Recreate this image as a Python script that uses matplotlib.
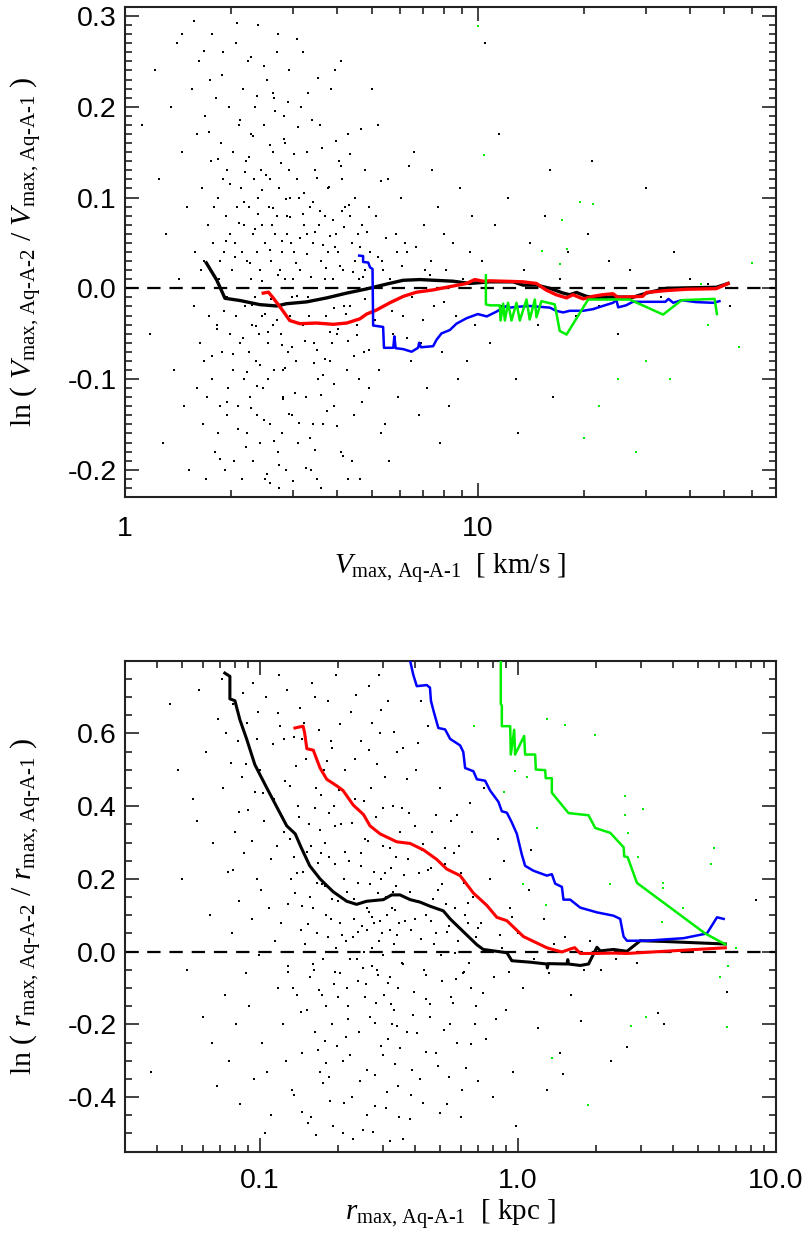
import matplotlib
matplotlib.use("Agg")
import matplotlib.pyplot as plt
from matplotlib.ticker import FixedLocator, FixedFormatter, NullFormatter

plt.rcParams['axes.unicode_minus'] = False
plt.rcParams['mathtext.fontset'] = 'custom'
plt.rcParams['mathtext.rm'] = 'Liberation Serif'
plt.rcParams['mathtext.it'] = 'Liberation Serif:italic'

# ---------------- top panel: Vmax ----------------
vmax_black_x = [1.70, 1.82, 1.92, 2.12, 2.41, 2.69, 2.87, 3.27, 3.73, 4.25, 4.84, 5.51, 6.14, 6.85, 8.51,
                9.49, 10.81, 12.59, 13.44, 14.66, 16.0, 17.45, 18.22, 19.04, 20.32, 21.7, 24.16, 27.5,
                30.06, 34.24, 47.4, 51.2]
vmax_black_y = [0.028, 0.009, -0.011, -0.0135, -0.018, -0.0195, -0.017, -0.015, -0.0106, -0.0053, -0.0007,
                0.0046, 0.0088, 0.0096, 0.0078, 0.0053, 0.0071, 0.0071, 0.0035, 0.0035, 0.0, -0.0053, -0.0071,
                -0.0046, -0.0089, -0.0106, -0.0095, -0.0099, -0.0053, 0.0, 0.0011, 0.0053]

vmax_red_x = [2.465, 2.55, 2.63, 2.78, 2.93, 3.13, 3.49, 3.89, 4.25, 4.63, 4.84, 5.16, 5.63, 6.15, 6.70, 7.47,
              8.33, 9.29, 9.80, 10.35, 10.81, 12.59, 13.44, 14.66, 15.6, 16.67, 17.84, 18.6, 19.88, 21.2, 22.6,
              24.16, 24.9, 29.3, 30.06, 34.24, 38.9, 47.4, 51.2]
vmax_red_y = [-0.0053, -0.0043, -0.0106, -0.023, -0.0355, -0.039, -0.0383, -0.0397, -0.0383, -0.0337, -0.0284,
              -0.024, -0.016, -0.0089, -0.0043, -0.0018, 0.0018, 0.0053, 0.0096, 0.0078, 0.0082, 0.0075, 0.0071,
              0.0053, -0.0018, -0.0071, -0.0106, -0.0071, -0.0117, -0.0089, -0.0071, -0.006, -0.0099, -0.0089,
              -0.0046, -0.0025, -0.0011, -0.0004, 0.0053]

vmax_blue_x = [4.61, 4.73, 4.73, 4.89, 4.95, 5.03, 5.05, 5.39, 5.42, 5.76, 5.80, 5.85, 6.14, 6.49, 6.77, 6.82,
               6.90, 7.47, 7.64, 7.89, 8.33, 8.70, 9.29, 10.0, 10.6, 11.27, 12.06, 12.3, 13.15, 14.03, 16.0,
               16.67, 17.45, 18.22, 19.88, 21.2, 22.6, 24.16, 24.7, 25.0, 26.3, 27.5, 34.0, 34.7, 35.8, 37.8,
               41.5, 46.5, 48.4]
vmax_blue_y = [0.036, 0.0355, 0.029, 0.0284, 0.023, 0.0213, -0.041, -0.0426, -0.0656, -0.0656, -0.053, -0.066,
               -0.067, -0.0699, -0.0656, -0.060, -0.065, -0.0638, -0.0567, -0.0497, -0.046, -0.039, -0.033,
               -0.0284, -0.031, -0.0259, -0.0195, -0.0213, -0.0202, -0.0195, -0.0213, -0.0248, -0.0266, -0.0248,
               -0.0248, -0.023, -0.0195, -0.016, -0.0131, -0.021, -0.0188, -0.0149, -0.0149, -0.0117, -0.016,
               -0.0131, -0.0152, -0.016, -0.0142]

vmax_green_x = [10.54, 10.54, 10.81, 11.54, 11.60, 11.80, 11.93, 12.18, 12.46, 12.87, 13.15, 13.74, 14.03,
                14.51, 14.66, 15.14, 16.52, 17.07, 17.84, 20.54, 25.25, 26.96, 33.5, 37.8, 46.9, 47.6]
vmax_green_y = [0.0142, -0.0177, -0.0188, -0.0188, -0.0355, -0.017, -0.0355, -0.016, -0.0355, -0.016, -0.0355,
                -0.0124, -0.0344, -0.0124, -0.0319, -0.0142, -0.0177, -0.047, -0.051, -0.0124, -0.0124, -0.0124,
                -0.029, -0.0131, -0.0117, -0.0284]

vmax_cloud = [
    (1.12, 0.18), (1.18, -0.05), (1.22, 0.24), (1.25, 0.12), (1.28, -0.17), (1.31, 0.06), (1.35, 0.2),
    (1.38, -0.09), (1.4, 0.27), (1.42, 0.01), (1.45, 0.15), (1.47, -0.13), (1.5, 0.09), (1.52, -0.2),
    (1.55, 0.22), (1.57, -0.02), (1.58, 0.04), (1.6, -0.11), (1.6, 0.17), (1.45, 0.28),
    (1.62, 0.25), (1.63, -0.06), (1.65, 0.11), (1.66, -0.15), (1.68, 0.03), (1.69, 0.19), (1.7, -0.21),
    (1.72, 0.07), (1.73, -0.03), (1.75, 0.14), (1.76, 0.28), (1.77, -0.1), (1.78, 0.05), (1.8, -0.18),
    (1.81, 0.21), (1.82, -0.04), (1.84, 0.1), (1.85, 0.01), (1.86, -0.13), (1.87, 0.16), (1.88, -0.07),
    (1.9, 0.26), (1.91, 0.04), (1.92, -0.2), (1.93, 0.08), (1.94, -0.01), (1.95, 0.13), (1.96, -0.11),
    (1.97, 0.2), (1.98, -0.05), (1.99, 0.06), (1.64, 0.02), (1.71, -0.12), (1.79, 0.09), (1.83, -0.16),
    (1.89, 0.12), (1.95, -0.14), (1.74, 0.23), (1.67, -0.08), (1.86, 0.03),
    (2.01, 0.02), (2.02, -0.09), (2.03, 0.15), (2.04, -0.19), (2.05, 0.05), (2.06, 0.27), (2.07, -0.03),
    (2.08, 0.09), (2.09, -0.13), (2.1, 0.18), (2.11, 0.0), (2.12, -0.06), (2.13, 0.11), (2.14, -0.21),
    (2.15, 0.04), (2.16, 0.22), (2.17, -0.1), (2.18, 0.07), (2.19, -0.02), (2.2, 0.14), (2.21, -0.16),
    (2.22, 0.03), (2.23, 0.25), (2.24, -0.07), (2.25, 0.09), (2.26, -0.12), (2.27, 0.01), (2.28, 0.17),
    (2.29, -0.04), (2.3, 0.06), (2.31, -0.19), (2.32, 0.12), (2.33, -0.01), (2.34, 0.2), (2.35, -0.08),
    (2.36, 0.04), (2.37, -0.14), (2.38, 0.1), (2.39, 0.29), (2.4, -0.05), (2.41, 0.02), (2.42, -0.17),
    (2.43, 0.13), (2.44, -0.03), (2.45, 0.07), (2.46, -0.11), (2.47, 0.18), (2.48, 0.0), (2.49, -0.21),
    (2.5, 0.05), (2.52, 0.23), (2.54, -0.06), (2.56, 0.09), (2.58, -0.15), (2.6, 0.03), (2.62, 0.15),
    (2.64, -0.09), (2.66, 0.06), (2.68, -0.02), (2.7, 0.26), (2.72, -0.18), (2.74, 0.11), (2.76, -0.05),
    (2.78, 0.04), (2.8, -0.12), (2.82, 0.19), (2.84, 0.01), (2.86, -0.2), (2.88, 0.08), (2.9, -0.07),
    (2.92, 0.13), (2.94, -0.03), (2.96, 0.05), (2.98, -0.14), (2.53, 0.0), (2.57, 0.12), (2.63, -0.04),
    (2.69, 0.08), (2.75, 0.02), (2.81, -0.09), (2.87, 0.06), (2.93, 0.1), (2.55, -0.1), (2.65, 0.21),
    (2.73, -0.22), (2.85, 0.16), (2.97, -0.01), (2.61, 0.07), (2.79, -0.16), (2.91, 0.24),
    (3.02, 0.04), (3.05, -0.08), (3.08, 0.12), (3.1, -0.17), (3.13, 0.02), (3.16, 0.2), (3.19, -0.04),
    (3.22, 0.07), (3.25, -0.12), (3.28, 0.15), (3.31, -0.01), (3.34, 0.09), (3.37, -0.2), (3.4, 0.05),
    (3.43, -0.06), (3.46, 0.13), (3.5, 0.0), (3.53, -0.1), (3.57, 0.18), (3.6, 0.03), (3.64, -0.15),
    (3.68, 0.08), (3.72, -0.03), (3.76, 0.11), (3.8, -0.08), (3.84, 0.22), (3.88, 0.01), (3.92, -0.13),
    (3.96, 0.06), (4.0, -0.05), (4.05, 0.14), (4.1, -0.18), (4.15, 0.02), (4.2, 0.09), (4.25, -0.09),
    (4.3, 0.17), (4.35, -0.02), (4.4, 0.05), (4.45, -0.14), (4.5, 0.1), (4.55, -0.04), (4.6, 0.01),
    (4.65, -0.21), (4.7, 0.07), (4.75, -0.07), (4.8, 0.13), (4.85, 0.0), (4.9, -0.11), (4.95, 0.04),
    (3.12, 0.1), (3.27, 0.06), (3.42, -0.15), (3.55, 0.07), (3.7, 0.01), (3.86, -0.06), (4.02, 0.04),
    (4.18, -0.02), (4.33, 0.08), (4.48, 0.03), (4.62, -0.1), (4.78, 0.02), (4.92, 0.09), (3.2, 0.26),
    (3.6, -0.22), (3.95, 0.24), (4.4, -0.19), (3.33, -0.03), (3.75, 0.04), (4.12, 0.12), (4.58, 0.06),
    (5.05, -0.02), (5.15, 0.08), (5.25, -0.09), (5.35, 0.03), (5.45, -0.15), (5.55, 0.12), (5.65, 0.01),
    (5.75, -0.05), (5.85, 0.06), (5.95, -0.12), (6.05, 0.1), (6.15, -0.03), (6.3, 0.04), (6.45, -0.08),
    (6.6, 0.15), (6.75, 0.0), (6.9, -0.06), (7.05, 0.07), (7.2, -0.11), (7.35, 0.03), (7.5, -0.02),
    (7.7, 0.09), (7.9, -0.07), (8.1, 0.02), (8.3, -0.13), (8.5, 0.05), (8.7, -0.03), (8.9, 0.11),
    (9.1, 0.01), (9.3, -0.08), (9.5, 0.04), (9.8, -0.04), (5.2, 0.18), (5.6, -0.19), (6.2, 0.05),
    (6.8, -0.14), (7.4, 0.13), (8.0, 0.06), (8.8, -0.1), (9.6, 0.08), (5.4, 0.02), (5.9, 0.04),
    (6.5, -0.01), (7.1, 0.02), (7.8, -0.17), (5.0, 0.22),
    (10.3, 0.03), (10.8, -0.06), (11.2, 0.07), (11.7, -0.02), (12.2, 0.1), (12.8, -0.1), (13.5, 0.02),
    (14.1, 0.05), (14.8, -0.04), (15.5, 0.08), (16.3, -0.12), (17.1, 0.01), (18.0, 0.04), (19.0, -0.03),
    (20.5, 0.06), (22.0, -0.02), (23.5, 0.03), (25.0, -0.05), (27.0, 0.02), (30.0, 0.11), (33.0, -0.01),
    (36.0, 0.04), (40.0, 0.01), (45.0, 0.005), (52.0, -0.02), (11.5, 0.17), (10.5, 0.27), (13.0, -0.16),
    (16.0, 0.13), (21.0, 0.14),
    # denser core
    (2.05, 0.035), (2.33, 0.065), (2.71, 0.015), (3.14, 0.055), (3.58, 0.085), (4.07, 0.025), (4.63, 0.045),
    (2.18, 0.095), (2.57, 0.042), (2.94, 0.078), (3.36, 0.012), (3.82, 0.058), (4.31, 0.092), (1.93, 0.052),
    (2.44, 0.008), (2.86, 0.098), (3.27, 0.038), (3.71, 0.022), (4.18, 0.068), (4.85, 0.062), (2.11, 0.072),
    (2.62, 0.088), (3.05, 0.028), (3.46, 0.062), (3.93, 0.045), (4.44, 0.018), (5.2, 0.035), (2.26, 0.028),
    (2.79, 0.052), (3.19, 0.082), (3.64, 0.048), (4.12, 0.085), (4.72, 0.012), (2.39, 0.082), (2.99, 0.01),
    (3.41, 0.095), (3.88, 0.075), (5.5, 0.055), (6.1, 0.025), (6.7, 0.045), (7.3, 0.015),
    (1.98, 0.115), (2.24, 0.145), (2.51, 0.125), (2.83, 0.165), (3.21, 0.105), (3.62, 0.155), (4.09, 0.135),
    (4.66, 0.175), (2.12, 0.185), (2.45, 0.108), (2.76, 0.138), (3.09, 0.178), (3.49, 0.122), (3.97, 0.162),
    (2.31, 0.168), (2.67, 0.195), (3.02, 0.148), (3.38, 0.185), (1.84, 0.142), (2.58, 0.158), (3.78, 0.112),
    (4.35, 0.148), (5.3, 0.118), (6.4, 0.135), (1.73, 0.172), (2.19, 0.128),
    (1.88, 0.235), (2.27, 0.255), (2.63, 0.215), (3.08, 0.275), (3.52, 0.232), (2.08, 0.292), (2.48, 0.245),
    (2.9, 0.205), (1.68, 0.262), (3.3, 0.215), (4.1, 0.25), (2.36, 0.212), (1.57, 0.295), (2.72, 0.28),
    (1.91, -0.025), (2.16, -0.055), (2.42, -0.085), (2.69, -0.035), (2.97, -0.065), (3.29, -0.015),
    (3.63, -0.095), (4.01, -0.045), (4.47, -0.075), (5.1, -0.035), (2.03, -0.072), (2.29, -0.018),
    (2.55, -0.048), (2.84, -0.088), (3.16, -0.038), (3.51, -0.068), (3.9, -0.022), (4.28, -0.058),
    (4.79, -0.012), (2.21, -0.092), (2.49, -0.028), (2.78, -0.062), (3.07, -0.008), (3.44, -0.082),
    (3.81, -0.048), (4.22, -0.028), (4.9, -0.068), (1.82, -0.045), (2.35, -0.042), (2.6, -0.012),
    (3.23, -0.058), (3.7, -0.078), (4.55, -0.052), (5.7, -0.025), (6.3, -0.055), (7.0, -0.035), (8.0, -0.015),
    (1.76, -0.075),
    (1.95, -0.125), (2.2, -0.175), (2.47, -0.145), (2.74, -0.195), (3.03, -0.115), (3.35, -0.165),
    (3.74, -0.135), (4.15, -0.185), (4.7, -0.125), (2.09, -0.155), (2.37, -0.108), (2.65, -0.168),
    (2.92, -0.138), (3.25, -0.198), (3.59, -0.118), (4.0, -0.152), (2.52, -0.205), (2.81, -0.122),
    (3.12, -0.148), (3.45, -0.178), (1.86, -0.188), (2.27, -0.132), (3.9, -0.105), (5.3, -0.16),
    (2.57, -0.215), (3.0, -0.212), (3.5, -0.21), (4.3, -0.21),
]
vmax_green_dots = [(9.98, 0.289), (10.4, 0.147), (19.5, 0.095), (21.2, 0.093), (17.3, 0.075), (17.9, 0.043),
                   (15.2, 0.041), (17.1, 0.027), (59.8, 0.028), (42.8, 0.005), (30.0, -0.08), (35.0, -0.1),
                   (22.0, -0.13), (25.0, -0.1), (20.0, -0.165), (45.0, -0.04), (55.0, -0.065), (28.0, -0.18)]

# ---------------- bottom panel: rmax ----------------
rmax_black_x = [0.0731, 0.0765, 0.0765, 0.080, 0.0836, 0.0888, 0.0956, 0.106, 0.116, 0.127, 0.137, 0.145,
                0.156, 0.171, 0.192, 0.217, 0.237, 0.259, 0.301, 0.324, 0.349, 0.382, 0.418, 0.456, 0.514,
                0.546, 0.614, 0.693, 0.734, 0.906, 0.947, 1.115, 1.294, 1.30, 1.31, 1.548, 1.56, 1.57, 1.743,
                1.877, 2.023, 2.084, 2.347, 2.645, 2.98, 3.667, 6.365]
rmax_black_y = [0.766, 0.757, 0.695, 0.690, 0.638, 0.585, 0.514, 0.452, 0.399, 0.346, 0.324, 0.284, 0.236, 0.2,
                0.165, 0.1385, 0.13, 0.1385, 0.143, 0.156, 0.156, 0.143, 0.136, 0.125, 0.112, 0.09, 0.055, 0.019,
                0.006, -0.003, -0.025, -0.029, -0.034, -0.045, -0.033, -0.034, -0.022, -0.034, -0.038, -0.034,
                0.012, 0.002, 0.006, 0.001, 0.03, 0.028, 0.021]

rmax_red_x = [0.1367, 0.147, 0.149, 0.152, 0.161, 0.171, 0.1815, 0.1984, 0.210, 0.23, 0.252, 0.267, 0.292,
              0.339, 0.382, 0.418, 0.43, 0.4845, 0.53, 0.597, 0.672, 0.758, 0.828, 0.906, 1.05, 1.148, 1.294,
              1.48, 1.59, 1.66, 1.743, 2.023, 2.347, 2.645, 6.365]
rmax_red_y = [0.615, 0.62, 0.602, 0.558, 0.554, 0.505, 0.474, 0.456, 0.443, 0.403, 0.377, 0.346, 0.324, 0.302,
              0.2975, 0.284, 0.28, 0.2535, 0.227, 0.209, 0.161, 0.127, 0.0944, 0.085, 0.0415, 0.0283, 0.0106,
              -0.001, 0.007, 0.011, -0.005, -0.005, -0.004, -0.005, 0.0106]

rmax_blue_x = [0.382, 0.393, 0.4055, 0.443, 0.456, 0.46, 0.47, 0.4914, 0.522, 0.546, 0.597, 0.614, 0.624, 0.672,
               0.693, 0.746, 0.78, 0.84, 0.866, 0.906, 0.947, 0.99, 1.035, 1.066, 1.148, 1.294, 1.353, 1.394,
               1.48, 1.501, 1.594, 1.743, 2.023, 2.347, 2.49, 2.567, 2.645, 3.16, 3.56, 4.385, 5.4, 5.908, 6.27]
rmax_blue_y = [0.80, 0.761, 0.730, 0.733, 0.726, 0.69, 0.664, 0.615, 0.611, 0.585, 0.567, 0.549, 0.505, 0.496,
               0.474, 0.47, 0.443, 0.412, 0.386, 0.382, 0.355, 0.324, 0.267, 0.236, 0.2225, 0.209, 0.213, 0.187,
               0.178, 0.143, 0.143, 0.121, 0.108, 0.0988, 0.09, 0.0415, 0.03, 0.03, 0.0327, 0.037, 0.05, 0.0944,
               0.09]

rmax_green_x = [0.858, 0.858, 0.866, 0.866, 0.892, 0.933, 0.938, 0.967, 0.975, 1.057, 1.066, 1.166, 1.173, 1.275,
                1.281, 1.353, 1.353, 1.570, 1.877, 1.993, 2.279, 2.567, 2.582, 2.66, 2.892, 5.313, 6.365]
rmax_green_y = [0.80, 0.6816, 0.676, 0.62, 0.62, 0.62, 0.542, 0.61, 0.542, 0.593, 0.542, 0.542, 0.5007, 0.499,
                0.477, 0.477, 0.437, 0.381, 0.375, 0.34, 0.3266, 0.287, 0.262, 0.26, 0.189, 0.05, 0.02]

rmax_cloud = [
    (0.038, -0.33), (0.045, 0.68), (0.05, 0.2), (0.052, -0.05), (0.055, 0.42), (0.058, 0.72), (0.06, -0.18),
    (0.062, 0.55), (0.064, 0.1), (0.066, 0.3), (0.068, -0.37), (0.069, 0.64), (0.065, -0.25), (0.057, 0.36),
    (0.048, 0.5),
    (0.071, 0.75), (0.072, 0.45), (0.073, -0.12), (0.074, 0.6), (0.075, 0.22), (0.076, -0.3), (0.077, 0.52),
    (0.078, 0.05), (0.079, 0.68), (0.08, 0.33), (0.081, -0.2), (0.082, 0.58), (0.083, 0.14), (0.084, -0.42),
    (0.085, 0.48), (0.086, 0.71), (0.087, 0.27), (0.088, -0.06), (0.089, 0.63), (0.09, 0.39), (0.091, -0.15),
    (0.092, 0.55), (0.093, 0.09), (0.094, 0.74), (0.095, -0.35), (0.096, 0.44), (0.097, 0.2), (0.098, 0.66),
    (0.099, -0.01), (0.1, 0.5), (0.102, -0.25), (0.104, 0.36), (0.106, 0.7), (0.108, 0.12), (0.11, -0.45),
    (0.112, 0.57), (0.114, 0.03), (0.116, 0.29), (0.118, -0.1), (0.12, 0.62), (0.101, 0.17), (0.107, -0.33),
    (0.113, 0.42), (0.119, 0.76), (0.105, -0.5),
    (0.121, 0.08), (0.123, -0.2), (0.125, 0.47), (0.127, 0.72), (0.129, -0.04), (0.131, 0.31), (0.133, -0.38),
    (0.135, 0.59), (0.137, 0.16), (0.139, -0.12), (0.141, 0.4), (0.143, 0.67), (0.145, -0.28), (0.147, 0.22),
    (0.149, 0.02), (0.151, 0.53), (0.153, -0.47), (0.155, 0.35), (0.157, -0.07), (0.159, 0.74), (0.161, 0.12),
    (0.163, -0.22), (0.165, 0.45), (0.167, 0.05), (0.169, 0.61), (0.171, -0.33), (0.173, 0.27), (0.175, -0.02),
    (0.177, 0.5), (0.179, 0.18), (0.181, -0.15), (0.183, 0.69), (0.185, 0.38), (0.187, -0.41), (0.189, 0.09),
    (0.191, 0.56), (0.193, -0.09), (0.195, 0.24), (0.197, 0.76), (0.199, -0.26), (0.124, 0.33), (0.128, 0.13),
    (0.134, -0.1), (0.138, 0.51), (0.144, 0.06), (0.148, 0.63), (0.152, -0.16), (0.158, 0.29), (0.162, -0.05),
    (0.166, 0.19), (0.172, 0.43), (0.176, -0.36), (0.18, 0.1), (0.186, 0.26), (0.19, -0.2), (0.194, 0.4),
    (0.198, 0.01), (0.126, -0.3), (0.136, 0.26), (0.146, -0.44), (0.156, 0.15), (0.164, 0.7), (0.174, -0.12),
    (0.184, 0.04), (0.192, -0.48), (0.142, 0.37), (0.168, -0.27), (0.188, 0.58), (0.132, 0.2), (0.178, 0.3),
    (0.201, 0.14), (0.204, -0.06), (0.207, 0.35), (0.21, -0.3), (0.213, 0.5), (0.216, 0.03), (0.219, -0.15),
    (0.222, 0.25), (0.225, 0.66), (0.228, -0.4), (0.231, 0.09), (0.234, 0.42), (0.237, -0.02), (0.24, 0.19),
    (0.243, -0.22), (0.246, 0.58), (0.249, 0.07), (0.252, -0.49), (0.255, 0.31), (0.258, -0.09), (0.261, 0.12),
    (0.264, 0.73), (0.267, -0.18), (0.27, 0.45), (0.273, 0.01), (0.276, 0.22), (0.279, -0.34), (0.282, 0.37),
    (0.285, -0.05), (0.288, 0.16), (0.291, 0.6), (0.294, -0.26), (0.297, 0.05), (0.3, 0.29), (0.303, -0.12),
    (0.306, 0.48), (0.309, -0.43), (0.312, 0.1), (0.315, 0.69), (0.318, -0.07), (0.321, 0.23), (0.324, -0.2),
    (0.327, 0.4), (0.33, 0.02), (0.333, -0.31), (0.336, 0.18), (0.339, 0.55), (0.342, -0.1), (0.345, 0.08),
    (0.348, 0.33), (0.205, 0.08), (0.211, 0.2), (0.217, -0.1), (0.223, -0.02), (0.229, 0.04), (0.235, 0.13),
    (0.241, -0.08), (0.247, 0.27), (0.253, 0.0), (0.259, 0.06), (0.265, 0.11), (0.271, -0.04), (0.277, 0.08),
    (0.283, -0.14), (0.289, 0.03), (0.295, 0.2), (0.301, -0.01), (0.307, 0.15), (0.313, -0.24), (0.319, 0.06),
    (0.325, 0.12), (0.331, -0.16), (0.337, 0.26), (0.343, -0.37), (0.209, -0.5), (0.26, -0.45), (0.29, 0.76),
    (0.32, -0.52), (0.233, 0.53), (0.273, 0.63),
    (0.355, -0.03), (0.362, 0.21), (0.37, -0.22), (0.378, 0.38), (0.386, 0.06), (0.394, -0.11), (0.402, 0.5),
    (0.41, 0.14), (0.418, -0.35), (0.426, 0.28), (0.434, -0.05), (0.442, 0.1), (0.45, 0.62), (0.458, -0.18),
    (0.466, 0.33), (0.474, 0.02), (0.482, -0.28), (0.49, 0.17), (0.5, 0.45), (0.51, -0.08), (0.52, 0.24),
    (0.53, -0.42), (0.54, 0.07), (0.55, 0.36), (0.56, -0.14), (0.57, 0.12), (0.58, -0.25), (0.59, 0.29),
    (0.6, 0.0), (0.61, -0.06), (0.62, 0.19), (0.63, -0.32), (0.64, 0.08), (0.65, 0.41), (0.66, -0.1),
    (0.67, 0.15), (0.68, -0.2), (0.69, 0.04), (0.36, 0.56), (0.38, -0.46), (0.4, 0.09), (0.42, 0.69),
    (0.44, -0.13), (0.46, 0.23), (0.48, 0.05), (0.505, -0.01), (0.525, 0.13), (0.545, -0.2), (0.565, 0.27),
    (0.585, 0.03), (0.605, -0.38), (0.625, 0.1), (0.645, -0.03), (0.665, 0.33), (0.685, -0.15),
    (0.72, 0.08), (0.75, -0.24), (0.78, 0.2), (0.81, -0.07), (0.84, 0.31), (0.87, 0.01), (0.9, -0.16),
    (0.93, 0.12), (0.96, -0.33), (1.0, 0.05), (1.05, -0.1), (1.1, 0.17), (1.15, -0.02), (1.2, -0.21),
    (1.26, 0.09), (1.32, -0.06), (1.38, 0.02), (1.45, -0.28), (1.52, 0.04), (1.6, -0.12), (1.7, 0.0),
    (1.8, -0.05), (1.9, 0.03), (0.74, 0.45), (0.8, -0.4), (0.88, 0.25), (0.98, -0.48), (1.12, 0.28),
    (1.3, -0.38), (1.75, -0.19),
    (3.5, -0.168), (3.67, -0.2), (2.65, -0.263), (2.29, -0.301), (1.5, -0.337), (6.45, -0.111), (8.4, 0.143),
    (2.1, -0.05), (2.4, -0.02), (2.9, -0.03),
    # denser core
    (0.131, 0.455), (0.146, 0.585), (0.163, 0.395), (0.182, 0.525), (0.203, 0.445), (0.227, 0.355),
    (0.254, 0.415), (0.284, 0.515), (0.318, 0.285), (0.356, 0.395), (0.4, 0.345), (0.447, 0.225),
    (0.139, 0.215), (0.154, 0.075), (0.171, 0.335), (0.191, 0.145), (0.214, 0.275), (0.239, 0.055),
    (0.268, 0.185), (0.299, 0.395), (0.335, 0.115), (0.375, 0.255), (0.42, 0.035), (0.47, 0.145),
    (0.53, 0.055), (0.6, 0.215),
    (0.128, -0.055), (0.144, -0.165), (0.161, -0.035), (0.179, -0.245), (0.2, -0.125), (0.224, -0.285),
    (0.25, -0.045), (0.28, -0.195), (0.313, -0.085), (0.35, -0.265), (0.392, -0.175), (0.44, -0.065),
    (0.49, -0.315), (0.55, -0.125), (0.62, -0.055),
    (0.135, -0.395), (0.158, -0.455), (0.186, -0.345), (0.212, -0.415), (0.244, -0.355), (0.275, -0.495),
    (0.31, -0.385), (0.345, -0.455), (0.39, -0.325), (0.43, -0.415), (0.5, -0.445),
    (0.11, 0.255), (0.117, 0.655), (0.124, 0.585), (0.097, 0.585), (0.103, 0.435), (0.088, 0.515),
    (0.093, 0.305), (0.083, 0.385), (0.079, 0.225),
    (0.205, 0.625), (0.235, 0.705), (0.265, 0.555), (0.295, 0.665), (0.33, 0.605), (0.37, 0.475),
    (0.41, 0.575),
    (0.145, 0.125), (0.168, 0.245), (0.196, 0.345), (0.218, 0.165), (0.246, 0.235), (0.272, 0.095),
    (0.304, 0.215), (0.34, 0.045), (0.38, 0.165), (0.43, 0.295), (0.48, 0.375), (0.52, 0.285), (0.58, 0.375),
    (0.152, 0.275), (0.174, 0.185), (0.208, 0.045), (0.232, 0.145), (0.262, 0.305), (0.292, 0.085),
    (0.327, 0.165), (0.366, 0.085), (0.412, 0.215), (0.46, 0.085), (0.51, 0.185), (0.57, -0.005),
    (0.64, 0.135), (0.7, 0.065), (0.76, 0.125), (0.85, 0.045), (0.95, 0.095),
    (0.17, -0.105), (0.195, -0.055), (0.22, -0.185), (0.255, -0.125), (0.287, -0.065), (0.322, -0.145),
    (0.36, -0.035), (0.405, -0.225), (0.455, -0.145), (0.515, -0.215), (0.575, -0.075), (0.66, -0.255),
    (0.73, -0.115), (0.82, -0.185), (0.92, -0.055),
    (0.18, -0.305), (0.215, -0.235), (0.26, -0.325), (0.3, -0.285), (0.34, -0.205), (0.385, -0.395),
    (0.44, -0.275), (0.54, -0.345), (0.6, -0.455), (0.7, -0.355),
    (0.165, -0.505), (0.23, -0.515), (0.28, -0.425), (0.36, -0.515),
]
rmax_green_dots = [(0.678, 0.62), (1.294, 0.64), (1.52, 0.624), (1.99, 0.596), (0.977, 0.498), (1.08, 0.481),
                   (0.883, 0.439), (2.59, 0.429), (3.05, 0.393), (2.6, 0.375), (1.18, 0.339), (2.67, 0.327),
                   (5.73, 0.286), (2.91, 0.26), (5.6, 0.242), (1.05, 0.185), (2.28, 0.185), (3.64, 0.189),
                   (3.64, 0.176), (1.29, 0.128), (4.37, 0.121), (3.6, 0.081), (7.0, 0.009), (6.52, -0.04),
                   (6.07, -0.069), (3.14, -0.181), (2.73, -0.204), (6.44, -0.207), (1.35, -0.292), (1.87, -0.422)]


def style_axes(ax, xmaj, xlabels, xmin, ymaj, ylabels, ymin_step, xpad):
    ax.set_xscale('log')
    ax.xaxis.set_major_locator(FixedLocator(xmaj))
    ax.xaxis.set_major_formatter(FixedFormatter(xlabels))
    ax.xaxis.set_minor_locator(FixedLocator(xmin))
    ax.xaxis.set_minor_formatter(NullFormatter())
    ax.set_yticks(ymaj)
    ax.set_yticklabels(ylabels)
    lo, hi = ax.get_ylim()
    n0 = int(lo / ymin_step) - 1
    n1 = int(hi / ymin_step) + 1
    ax.set_yticks([k * ymin_step for k in range(n0, n1 + 1)], minor=True)
    ax.tick_params(which='both', direction='in', top=True, right=True, width=1.2, color='#222222')
    ax.tick_params(which='major', length=10)
    ax.tick_params(which='minor', length=5)
    ax.tick_params(axis='x', which='major', pad=xpad)
    ax.tick_params(axis='y', which='major', pad=6)
    for lab in ax.get_xticklabels() + ax.get_yticklabels():
        lab.set_fontfamily('Liberation Sans')
        lab.set_fontsize(20.5)
    for sp in ax.spines.values():
        sp.set_linewidth(1.5)
        sp.set_color('#222222')


fig = plt.figure(figsize=(8.09, 12.41), dpi=100)
ax1 = fig.add_axes([0.1545, 0.5995, 0.8047, 0.3949])
ax2 = fig.add_axes([0.1545, 0.0720, 0.8047, 0.3956])

# top panel
ax1.plot([p[0] for p in vmax_cloud], [p[1] for p in vmax_cloud], 's', color='black', ms=1.6, mew=0, zorder=1)
ax1.plot([p[0] for p in vmax_green_dots], [p[1] for p in vmax_green_dots], 's', color='#00ee00', ms=1.5,
         mew=0, zorder=1)
ax1.axhline(0.0, color='black', lw=1.6, dashes=(6, 4), zorder=2)
ax1.plot(vmax_black_x, vmax_black_y, color='black', lw=2.4, zorder=3)
ax1.plot(vmax_red_x, vmax_red_y, color='#ff0000', lw=2.4, zorder=4)
ax1.plot(vmax_blue_x, vmax_blue_y, color='#0000ff', lw=1.8, zorder=5)
ax1.plot(vmax_green_x, vmax_green_y, color='#00ee00', lw=1.8, zorder=6)
ax1.set_xlim(1, 70)
ax1.set_ylim(-0.22, 0.302)
style_axes(ax1, [1, 10], ['1', '10'], [2, 3, 4, 5, 6, 7, 8, 9, 20, 30, 40, 50, 60],
           [-0.2, -0.1, 0.0, 0.1, 0.2, 0.3], ['-0.2', '-0.1', '0.0', '0.1', '0.2', '0.3'], 0.01, 14)
ax1.set_xlabel(r'$V_{\text{max, Aq-A-1}}$  [ km/s ]', fontfamily='Liberation Serif', fontsize=21, labelpad=6)
ax1.set_ylabel(r'ln ( $V_{\text{max, Aq-A-2}}$ / $V_{\text{max, Aq-A-1}}$ )', fontfamily='Liberation Serif',
               fontsize=21.5)
ax1.yaxis.set_label_coords(-0.125, 0.5)

# bottom panel
ax2.plot([p[0] for p in rmax_cloud], [p[1] for p in rmax_cloud], 's', color='black', ms=1.6, mew=0, zorder=1)
ax2.plot([p[0] for p in rmax_green_dots], [p[1] for p in rmax_green_dots], 's', color='#00ee00', ms=1.5,
         mew=0, zorder=1)
ax2.axhline(0.0, color='black', lw=1.6, dashes=(6, 4), zorder=2)
ax2.plot(rmax_black_x, rmax_black_y, color='black', lw=2.2, zorder=3)
ax2.plot(rmax_red_x, rmax_red_y, color='#ff0000', lw=2.2, zorder=4)
ax2.plot(rmax_blue_x, rmax_blue_y, color='#0000ff', lw=1.8, zorder=5)
ax2.plot(rmax_green_x, rmax_green_y, color='#00ee00', lw=1.8, zorder=6)
ax2.set_xlim(0.03, 10)
ax2.set_ylim(-0.524, 0.777)
style_axes(ax2, [0.1, 1, 10], ['0.1', '1.0', '10.0'],
           [0.03, 0.04, 0.05, 0.06, 0.07, 0.08, 0.09, 0.2, 0.3, 0.4, 0.5, 0.6, 0.7, 0.8, 0.9,
            2, 3, 4, 5, 6, 7, 8, 9],
           [-0.4, -0.2, 0.0, 0.2, 0.4, 0.6], ['-0.4', '-0.2', '0.0', '0.2', '0.4', '0.6'], 0.05, 12)
ax2.set_xlabel(r'$r_{\text{max, Aq-A-1}}$  [ kpc ]', fontfamily='Liberation Serif', fontsize=21, labelpad=2)
ax2.set_ylabel(r'ln ( $r_{\text{max, Aq-A-2}}$ / $r_{\text{max, Aq-A-1}}$ )', fontfamily='Liberation Serif',
               fontsize=21.5)
ax2.yaxis.set_label_coords(-0.125, 0.5)

fig.savefig('out.png', dpi=100)
